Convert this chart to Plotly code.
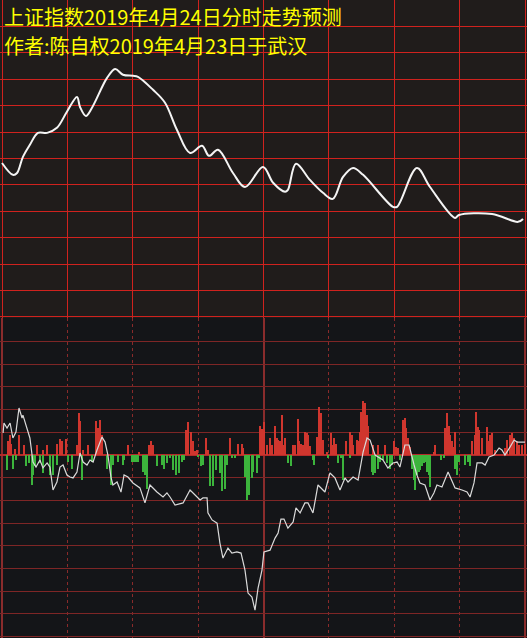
import plotly.graph_objects as go

# ---------------- data ----------------
title_line1 = "上证指数2019年4月24日分时走势预测"
title_line2 = "作者:陈自权2019年4月23日于武汉"

# forecast index curve (minutes after open, index level)
fc_time = [0, 5.0, 6.9, 9.6, 12.8, 16.5, 20.7, 25.2, 29.8, 34.4, 35.8, 38.5, 41.3, 48.2, 51.9,
           55.5, 60.1, 62.4, 69.3, 74.8, 80.3, 86.3, 91.8, 95.0, 99.1, 106.0, 111.5, 119.8,
           124.4, 129.9, 131.2, 134.9, 141.3, 147.3, 151.8, 156.5, 161.1, 165.7, 179.4, 181.3,
           190.4, 196.4, 207.9, 209.7, 224.9, 236.8, 239.1]
fc_value = [3208.3, 3203.8, 3204.5, 3210.6, 3215.2, 3219.7, 3219.7, 3221.6, 3227.7, 3233.3,
            3229.5, 3226.1, 3229.2, 3240.5, 3243.9, 3241.7, 3241.3, 3240.9, 3236.0, 3231.1,
            3220.8, 3212.1, 3214.8, 3211.0, 3213.3, 3204.5, 3199.2, 3206.8, 3200.8, 3197.4,
            3198.1, 3208.0, 3201.9, 3197.0, 3194.7, 3203.0, 3206.4, 3203.8, 3191.7, 3191.7,
            3206.4, 3199.2, 3187.5, 3188.6, 3189.0, 3186.0, 3187.1]

# lower panel: intraday trace
rt_time = [0.5, 0.9, 2.3, 3.7, 5.0, 6.4, 7.8, 9.2, 9.6, 11.5, 12.8, 14.2, 15.6, 17.4, 18.8, 20.7,
           22.0, 23.4, 25.2, 26.6, 28.0, 29.8, 31.2, 32.6, 34.4, 35.8, 37.2, 39.0, 40.4, 41.8,
           43.6, 45.9, 47.3, 48.6, 50.0, 50.9, 52.8, 54.6, 56.0, 57.8, 60.1, 63.3, 65.6, 67.9,
           71.1, 73.9, 75.7, 77.1, 79.4, 83.1, 86.3, 88.6, 90.9, 92.2, 94.1, 94.5, 96.4, 98.7,
           100.0, 101.4, 103.7, 105.5, 107.8, 109.7, 111.5, 112.9, 114.7, 116.1, 117.5, 119.3,
           120.2, 123.0, 125.3, 126.7, 128.0, 129.4, 131.2, 133.6, 134.9, 136.8, 139.0, 140.4,
           142.7, 145.0, 148.2, 150.5, 152.8, 155.1, 157.4, 158.8, 161.1, 163.4, 165.7, 167.5,
           168.9, 171.2, 172.5, 174.8, 177.1, 179.4, 181.3, 182.6, 184.9, 186.8, 189.1, 190.4,
           191.8, 194.1, 196.4, 198.2, 199.6, 201.9, 204.7, 207.9, 211.1, 213.4, 214.8, 216.6,
           218.0, 220.3, 221.7, 223.5, 225.8, 228.1, 229.4, 230.8, 233.1, 235.0, 236.4, 238.7,
           240.0]
rt_value = [0.97, 1.41, 1.19, 1.41, 0.75, 1.01, 2.07, 1.63, 1.76, 1.19, 0.75, -0.31, -0.53,
            -0.22, -0.57, -0.35, -0.53, -1.54, -1.19, -0.53, -0.44, -0.88, -0.97, -1.01, -0.75,
            0.09, -0.31, -0.44, -0.22, -0.31, 0.22, 0.79, 0.57, 0.0, -0.97, -1.32, -1.19, -1.63,
            -0.88, -0.97, -1.23, -1.45, -2.11, -1.32, -1.63, -1.85, -1.67, -1.85, -2.20, -2.11,
            -1.54, -1.76, -1.98, -1.89, -1.89, -2.55, -2.86, -3.00, -3.88, -4.54, -4.10, -4.32,
            -4.27, -4.32, -5.07, -6.08, -6.26, -6.83, -5.86, -5.07, -4.27, -4.19, -3.66, -3.44,
            -2.82, -2.82, -3.22, -2.95, -2.33, -2.55, -2.11, -2.11, -2.55, -1.32, -1.63, -0.79,
            -1.01, -1.54, -1.01, -1.19, -0.97, -1.10, 0.13, 0.75, 0.66, 0.0, -0.09, -0.22, -0.57,
            -0.35, -0.31, -0.53, 0.44, 0.44, -0.44, -0.88, -1.23, -1.32, -1.98, -1.67, -1.32,
            -1.41, -0.75, -1.45, -1.54, -1.63, -1.85, -1.23, -0.35, -0.35, -0.44, -0.09, 0.0,
            0.31, 0.22, 0.0, 0.35, 0.66, 0.57, 0.57, 0.57]

# buying (red) and selling (green) bars
up_time = [2.8, 3.7, 4.1, 6.0, 7.8, 10.1, 16.1, 18.8, 20.7, 25.2, 26.6, 27.5, 29.4, 34.4, 35.3,
           35.8, 37.2, 39.5, 43.1, 44.1, 45.0, 45.9, 57.8, 62.9, 67.5, 68.4, 69.3, 84.4, 85.4,
           86.7, 87.7, 88.6, 89.5, 93.6, 94.5, 104.6, 108.3, 110.1, 110.6, 118.4, 119.3, 120.2,
           121.6, 123.0, 123.9, 125.3, 126.2, 126.7, 127.6, 128.5, 129.0, 129.9, 133.5, 134.4,
           135.8, 136.3, 137.2, 138.1, 139.0, 140.0, 140.4, 141.3, 144.5, 145.5, 146.4, 147.3,
           149.1, 151.0, 151.9, 152.4, 153.3, 157.9, 159.7, 160.6, 161.1, 162.9, 163.4, 164.3,
           164.7, 165.7, 166.6, 167.5, 168.0, 170.3, 172.5, 175.8, 179.9, 180.8, 181.7, 184.0,
           184.9, 185.4, 186.3, 187.2, 198.2, 198.7, 203.3, 204.2, 205.1, 205.6, 206.5, 207.4,
           207.9, 215.7, 217.1, 217.5, 218.4, 218.9, 220.3, 222.6, 223.5, 223.9, 224.9, 226.2,
           230.8, 231.7, 233.1, 234.0, 234.9, 236.3, 237.2, 238.6, 240.0]
up_value = [0.6, 0.9, 0.5, 0.25, 0.9, 0.45, 0.45, 0.22, 0.45, 0.5, 0.7, 0.6, 0.7, 0.45, 1.85,
            1.5, 0.22, 0.45, 1.5, 1.2, 1.55, 0.9, 0.45, 0.15, 0.45, 0.6, 0.45, 1.1, 1.45, 1.0,
            0.6, 0.18, 0.22, 0.75, 0.22, 0.75, 0.5, 0.5, 0.3, 1.3, 1.15, 1.45, 0.45, 0.75, 0.45,
            1.3, 0.75, 0.66, 0.6, 1.75, 0.45, 0.75, 0.45, 0.45, 1.6, 0.6, 0.5, 0.45, 1.0, 0.95,
            0.9, 0.4, 0.8, 2.1, 1.85, 0.66, 0.15, 0.95, 0.45, 0.75, 0.5, 0.6, 1.0, 0.9, 0.45,
            0.66, 0.6, 1.0, 1.9, 2.4, 2.3, 1.75, 1.3, 0.45, 0.45, 0.45, 0.6, 0.37, 0.3, 1.55,
            1.65, 1.2, 0.75, 0.37, 0.15, 0.45, 1.2, 1.85, 1.3, 0.9, 0.6, 0.37, 1.0, 0.6, 0.9,
            1.9, 1.25, 1.1, 0.75, 1.25, 0.6, 0.9, 0.95, 0.22, 0.3, 0.66, 0.9, 0.95, 0.75, 0.6,
            0.45, 0.45, 0.5]
down_time = [2.3, 5.0, 6.4, 11.0, 12.4, 13.8, 14.2, 15.1, 17.4, 18.8, 22.0, 23.4, 25.2, 30.3,
             32.1, 36.7, 41.3, 48.2, 50.0, 50.9, 53.2, 55.5, 56.0, 59.7, 60.6, 61.5, 62.4, 64.7,
             65.6, 66.5, 71.1, 73.4, 74.3, 75.7, 77.1, 78.5, 79.8, 81.2, 82.6, 83.5, 89.9, 91.3,
             92.2, 95.4, 96.8, 98.2, 100.0, 100.9, 102.3, 103.3, 105.5, 106.9, 111.5, 112.4,
             113.3, 114.7, 115.2, 117.0, 117.9, 131.2, 132.6, 142.7, 143.2, 149.6, 154.2, 155.6,
             156.5, 159.7, 169.8, 170.3, 171.2, 172.5, 173.5, 174.8, 176.7, 178.1, 179.0, 182.6,
             188.1, 189.1, 189.5, 190.4, 191.4, 191.8, 192.7, 193.7, 194.1, 195.0, 196.0, 196.4,
             201.5, 202.8, 207.9, 208.8, 209.7, 212.5, 213.8, 214.8]
down_value = [-0.66, -0.6, -0.22, -0.5, -0.37, -1.3, -0.9, -0.5, -0.37, -0.8, -0.9, -0.9, -0.44,
              -0.3, -0.6, -1.1, -0.3, -0.6, -1.3, -0.44, -0.3, -0.44, -0.22, -0.3, -0.3, -0.3,
              -0.3, -0.75, -0.9, -1.5, -0.5, -0.44, -0.6, -0.37, -0.15, -0.66, -0.9, -0.8, -0.3,
              -0.22, -0.07, -0.5, -0.44, -1.35, -1.35, -0.66, -0.8, -1.6, -1.5, -0.44, -0.15,
              -0.15, -0.95, -2.0, -1.75, -1.0, -0.75, -0.8, -0.15, -0.37, -0.5, -0.22, -0.44,
              -0.15, -0.37, -0.15, -1.1, -0.15, -0.75, -0.9, -0.8, -0.6, -0.3, -0.22, -0.37,
              -0.6, -0.44, -0.22, -0.6, -1.1, -1.55, -0.9, -0.75, -0.66, -0.5, -0.37, -0.3,
              -0.75, -0.9, -1.4, -0.22, -0.15, -0.6, -0.9, -0.3, -0.44, -0.3, -0.5]

grid_minutes = [0, 30, 60, 90, 120, 150, 180, 210, 240]

# ---------------- figure ----------------
W, H = 527, 638
split = 1 - 318 / H  # boundary between the two panels (paper coords)

fig = go.Figure()

fig.add_trace(go.Scatter(x=fc_time, y=fc_value, mode="lines", line_shape="spline",
                         line=dict(color="#f4f4f4", width=2), xaxis="x", yaxis="y",
                         hoverinfo="skip"))

fig.add_trace(go.Bar(x=up_time, y=up_value, width=0.6, marker=dict(color="#d0362e", line_width=0),
                     xaxis="x2", yaxis="y2", hoverinfo="skip"))
fig.add_trace(go.Bar(x=down_time, y=down_value, width=0.6, marker=dict(color="#3cb43c", line_width=0),
                     xaxis="x2", yaxis="y2", hoverinfo="skip"))
fig.add_trace(go.Scatter(x=rt_time, y=rt_value, mode="lines",
                         line=dict(color="#dadada", width=1.2), xaxis="x2", yaxis="y2",
                         hoverinfo="skip"))

xr = [-0.92, 240.92]
top_red = "#d0221e"
title_font = dict(family="Noto Sans CJK SC", size=20, color="#ffff00")
fig.update_layout(
    width=W, height=H,
    margin=dict(l=0, r=0, t=0, b=0),
    paper_bgcolor="#141518", plot_bgcolor="#141518",
    showlegend=False, barmode="overlay", bargap=0,
    xaxis=dict(domain=[0, 1], anchor="y", range=xr, tickvals=grid_minutes,
               showticklabels=False, ticks="", showgrid=True, gridcolor=top_red,
               gridwidth=1, zeroline=False, showline=False),
    yaxis=dict(domain=[split, 1], anchor="x", range=[3149.6, 3270], tick0=3150, dtick=10,
               showticklabels=False, ticks="", showgrid=True, gridcolor=top_red,
               gridwidth=1, zeroline=False, showline=False),
    xaxis2=dict(domain=[0, 1], anchor="y2", range=xr, tickvals=[30, 60, 90, 150, 180, 210],
                showticklabels=False, ticks="", showgrid=True, gridcolor="#8a2a2a",
                griddash="dot", gridwidth=1, zeroline=False, showline=False,
                minor=dict(tickvals=[0, 120, 240], showgrid=True, gridcolor="#8a2c2c",
                           griddash="solid", gridwidth=2)),
    yaxis2=dict(domain=[0, split], anchor="x2", range=[-8.06, 6.035], tick0=0, dtick=1,
                showticklabels=False, ticks="", showgrid=True, gridcolor="#7e2626",
                gridwidth=1.2, zeroline=True, zerolinecolor="#b42a2a", zerolinewidth=2,
                showline=False),
    shapes=[dict(type="rect", xref="paper", yref="paper", x0=0, x1=1, y0=split, y1=1,
                 fillcolor="#201c1b", line_width=0, layer="below")],
    annotations=[
        dict(text=title_line1, xref="paper", yref="paper", x=3 / W, y=1 - 16 / H,
             xanchor="left", yanchor="middle", showarrow=False, borderpad=0,
             font=title_font),
        dict(text=title_line2, xref="paper", yref="paper", x=3 / W, y=1 - 45.5 / H,
             xanchor="left", yanchor="middle", showarrow=False, borderpad=0,
             font=title_font),
    ],
)

fig.write_html("out.html", config={"displayModeBar": False},
               post_script="document.body.style.margin='0px';")
